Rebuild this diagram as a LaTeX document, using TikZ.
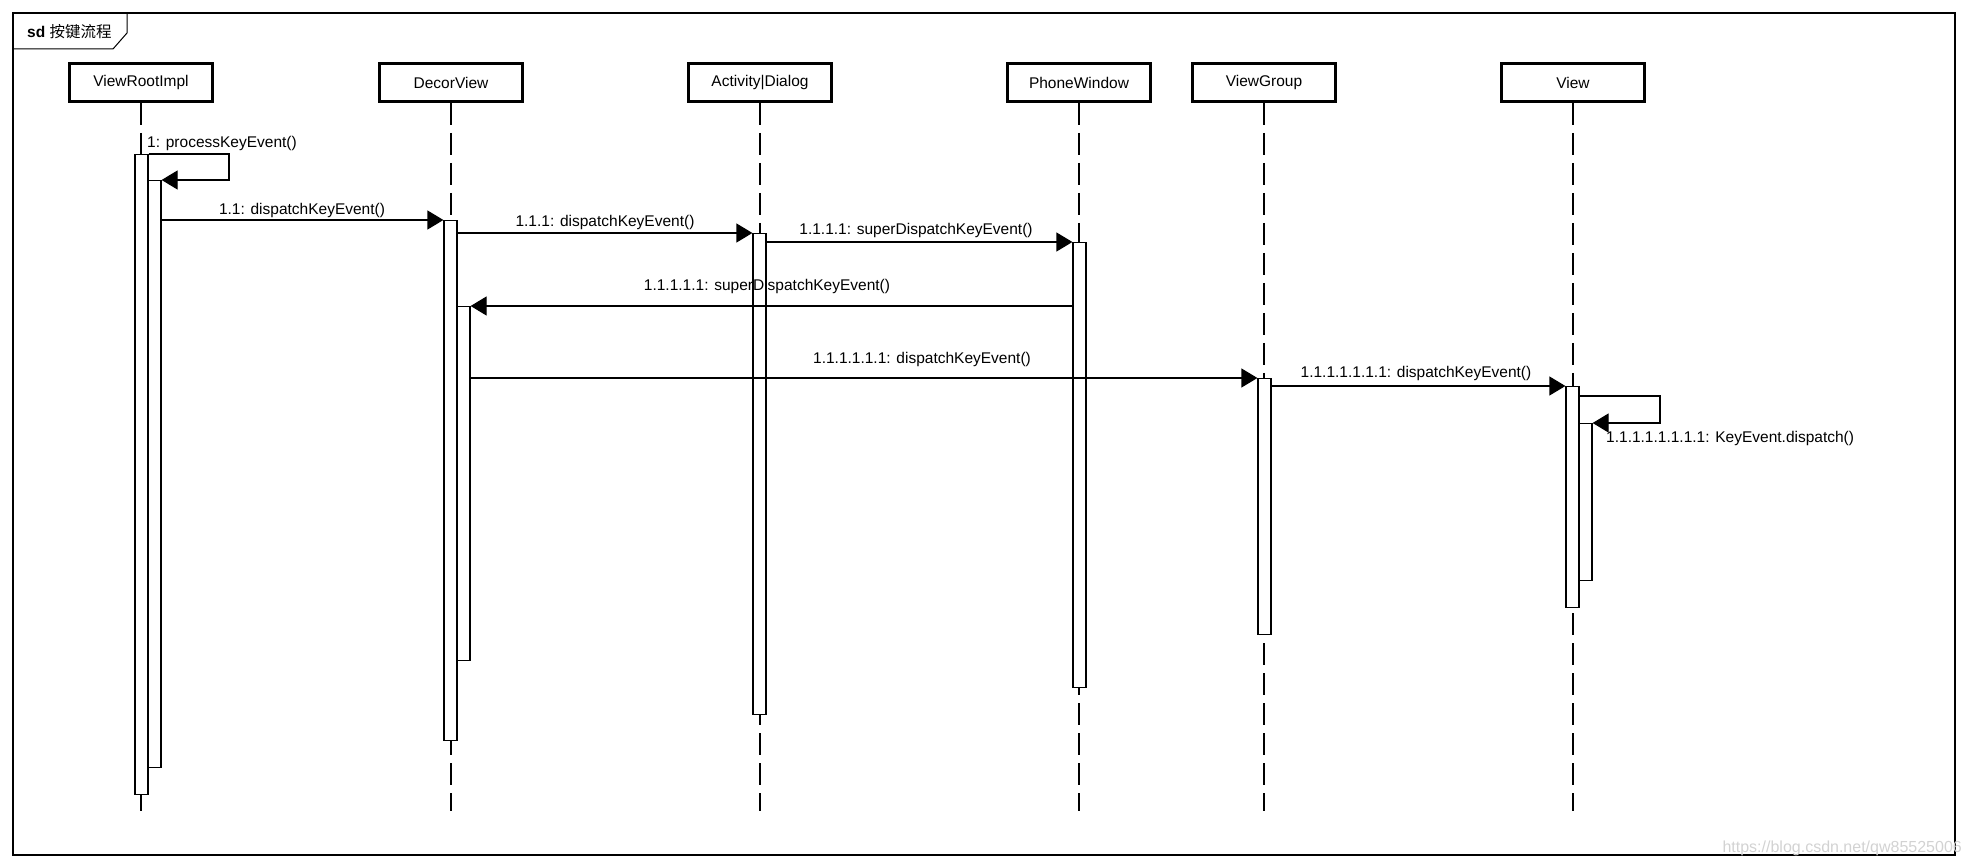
\documentclass[tikz,border=0pt]{standalone}
\usepackage{fontspec}
\setmainfont{Liberation Sans}
\newfontfamily\cjkfont{Noto Sans CJK SC}
\usetikzlibrary{arrows.meta}
\newcommand\lblfont{\fontsize{15.5}{18}\selectfont}
\begin{document}
\begin{tikzpicture}[x=1pt,y=-1pt,
  obj/.style={draw, line width=3pt, minimum width=143pt, minimum height=38pt, inner sep=0pt, font=\lblfont},
  act/.style={draw, fill=white, line width=1.2pt, minimum width=13pt, inner sep=0pt, anchor=north},
  life/.style={line width=1.2pt, dash pattern=on 22pt off 8pt},
  msg/.style={line width=1.2pt, -{Triangle[length=16pt,width=19pt]}},
  lbl/.style={inner sep=0pt, font=\lblfont},
]
\useasboundingbox (0,0) rectangle (1968,866);
% frame
\draw[line width=1.5pt] (13,13) rectangle (1955,855);
\draw[line width=1pt] (13,49) -- (113,49) -- (127,33) -- (127,13);
\node[anchor=west, inner sep=0pt, font=\lblfont] (title) at (27,32) {\textbf{sd} \cjkfont 按键流程};

% objects
\node[obj] (vri) at (141,82.5) {ViewRootImpl};
\node[obj] (dv)  at (451,82.5) {DecorView};
\node[obj] (ad)  at (760,82.5) {Activity|Dialog};
\node[obj] (pw)  at (1079,82.5) {PhoneWindow};
\node[obj] (vg)  at (1264,82.5) {ViewGroup};
\node[obj] (vw)  at (1573,82.5) {View};

% lifelines
\coordinate (lend) at (0,811);
\foreach \o in {vri,dv,ad,pw,vg,vw}{
  \draw[life] (\o.south) -- (\o.south |- lend);
}

% activations
\node[act, minimum height=640pt] (vA1) at (141.5,154) {};
\node[act, minimum height=587pt] (vA2) at (154.5,180) {};
\node[act, minimum height=520pt] (dA1) at (450.5,220) {};
\node[act, minimum height=354pt] (dA2) at (463.5,306) {};
\node[act, minimum height=481pt] (aA1) at (759.5,233) {};
\node[act, minimum height=445pt] (pA1) at (1079.5,242) {};
\node[act, minimum height=256pt] (gA1) at (1264.5,378) {};
\node[act, minimum height=221pt] (wA1) at (1572.5,386) {};
\node[act, minimum height=157pt] (wA2) at (1585.5,423) {};

% messages
\coordinate (l1) at (229,154);
\draw[msg] (vA1.north east) -- (l1) |- (vA2.north east);
\node[lbl, anchor=west] (m1) at (147,143) {1: processKeyEvent()};

\draw[msg] (vA2.east |- dA1.north) -- (dA1.north west);
\node[lbl] (m2) at (302,210) {1.1: dispatchKeyEvent()};

\draw[msg] (dA1.east |- aA1.north) -- (aA1.north west);
\node[lbl] (m3) at (605,222) {1.1.1: dispatchKeyEvent()};

\draw[msg] (aA1.east |- pA1.north) -- (pA1.north west);
\node[lbl] (m4) at (916,230) {1.1.1.1: superDispatchKeyEvent()};

\draw[msg] (pA1.west |- dA2.north) -- (dA2.north east);
\node[lbl] (m5) at (767,286) {1.1.1.1.1: superDispatchKeyEvent()};

\draw[msg] (dA2.east |- gA1.north) -- (gA1.north west);
\node[lbl] (m6) at (922,359) {1.1.1.1.1.1: dispatchKeyEvent()};

\draw[msg] (gA1.east |- wA1.north) -- (wA1.north west);
\node[lbl] (m7) at (1416,373) {1.1.1.1.1.1.1: dispatchKeyEvent()};

\coordinate (l8) at (1660,396);
\draw[msg] (wA1.east |- l8) -- (l8) |- (wA2.north east);
\node[lbl, anchor=west] (m8) at (1606,438) {1.1.1.1.1.1.1.1: KeyEvent.dispatch()};

% watermark
\node[anchor=east, inner sep=0pt, text=gray!35, font=\fontsize{16}{18}\selectfont] (wm) at (1962,848) {https://blog.csdn.net/qw85525006};
\end{tikzpicture}
\end{document}
